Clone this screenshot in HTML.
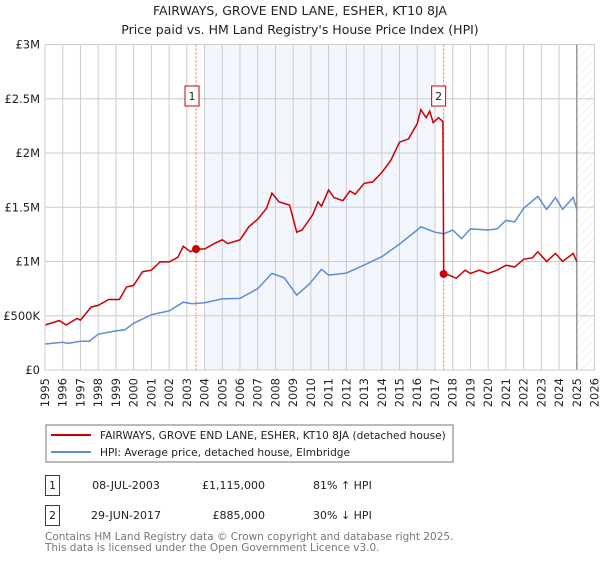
<!DOCTYPE html>
<html><head><meta charset="utf-8"><style>
body{margin:0;background:#fff;font-family:"DejaVu Sans","Liberation Sans",sans-serif;}
svg text{font-family:"DejaVu Sans","Liberation Sans",sans-serif;}
</style></head><body>
<svg id="c" width="600" height="560" xmlns="http://www.w3.org/2000/svg">
<defs><pattern id="hatch" width="6" height="6" patternUnits="userSpaceOnUse" patternTransform="rotate(45)"><line x1="0" y1="0" x2="0" y2="6" stroke="#ddd" stroke-width="0.8"/></pattern></defs>
<text x="300" y="15" text-anchor="middle" font-size="12.5" fill="#222">FAIRWAYS, GROVE END LANE, ESHER, KT10 8JA</text>
<text x="300" y="34" text-anchor="middle" font-size="12.5" fill="#222">Price paid vs. HM Land Registry's House Price Index (HPI)</text>
<g id="plot"></g>
<g>
<rect x="46" y="425" width="407" height="37" fill="#fff" stroke="#777"/>
<line x1="51" y1="435" x2="91" y2="435" stroke="#cc0000" stroke-width="2"/>
<text x="100" y="439" font-size="10.6" fill="#222">FAIRWAYS, GROVE END LANE, ESHER, KT10 8JA (detached house)</text>
<line x1="51" y1="452" x2="91" y2="452" stroke="#5b8fd6" stroke-width="2"/>
<text x="100" y="456" font-size="10.6" fill="#222">HPI: Average price, detached house, Elmbridge</text>
</g>
<g font-size="11" fill="#222">
<rect x="45.5" y="475.5" width="14" height="20" fill="#fff" stroke="#cc0000"/>
<text x="52.5" y="489" text-anchor="middle">1</text>
<text x="126" y="489" text-anchor="middle">08-JUL-2003</text>
<text x="265" y="489" text-anchor="end">£1,115,000</text>
<text x="313" y="489">81% ↑ HPI</text>
<rect x="45.5" y="505.5" width="14" height="20" fill="#fff" stroke="#cc0000"/>
<text x="52.5" y="519" text-anchor="middle">2</text>
<text x="126" y="519" text-anchor="middle">29-JUN-2017</text>
<text x="265" y="519" text-anchor="end">£885,000</text>
<text x="313" y="519">30% ↓ HPI</text>
</g>
<text x="45" y="540" font-size="10.5" fill="#777">Contains HM Land Registry data © Crown copyright and database right 2025.</text>
<text x="45" y="551" font-size="10.5" fill="#777">This data is licensed under the Open Government Licence v3.0.</text>
</svg>
<script>
const hpiYears=[1995,1996,1996.3,1997,1997.5,1998,1999,1999.5,2000,2001,2002,2002.8,2003.3,2004,2005,2006,2007,2007.8,2008.5,2009.2,2009.9,2010.6,2011,2012,2013,2014,2015,2016,2016.2,2017,2017.5,2018,2018.5,2019,2020,2020.5,2021,2021.5,2022,2022.8,2023.3,2023.8,2024.2,2024.8,2025];
const hpiValues=[240000,255000,245000,265000,265000,330000,360000,370000,430000,510000,545000,625000,610000,620000,655000,660000,750000,890000,850000,690000,790000,928000,875000,893000,967000,1044000,1160000,1290000,1320000,1270000,1255000,1290000,1210000,1300000,1290000,1300000,1380000,1365000,1490000,1600000,1480000,1590000,1480000,1590000,1480000];
const propYears=[1995,1995.8,1996.2,1996.8,1997,1997.6,1998,1998.6,1999.2,1999.6,2000,2000.5,2001,2001.5,2002,2002.5,2002.8,2003.2,2003.52,2004,2004.6,2005,2005.3,2006,2006.5,2007,2007.5,2007.8,2008.2,2008.8,2009.2,2009.5,2010.1,2010.4,2010.6,2011,2011.3,2011.8,2012.2,2012.5,2013,2013.5,2014,2014.5,2015,2015.5,2016,2016.2,2016.5,2016.7,2016.9,2017.2,2017.45,2017.49,2017.8,2018.2,2018.7,2019,2019.5,2020,2020.5,2021,2021.5,2022,2022.5,2022.8,2023.3,2023.8,2024.2,2024.8,2025];
const propValues=[415000,455000,415000,475000,460000,580000,595000,650000,650000,765000,780000,906000,920000,998000,995000,1040000,1140000,1090000,1115000,1115000,1170000,1200000,1165000,1200000,1320000,1390000,1490000,1630000,1550000,1520000,1270000,1290000,1430000,1550000,1510000,1660000,1590000,1560000,1650000,1620000,1720000,1735000,1820000,1930000,2100000,2130000,2270000,2400000,2325000,2385000,2280000,2325000,2290000,885000,875000,845000,920000,890000,920000,890000,920000,965000,950000,1020000,1035000,1090000,1000000,1075000,1000000,1075000,1000000];
const saleYears=[2003.52,2017.49];
const saleValues=[1115000,885000];
const yTicks=[0,500000,1000000,1500000,2000000,2500000,3000000];
const yTickLabels=["£0","£500K","£1M","£1.5M","£2M","£2.5M","£3M"];
const xTicks=[];for(let y=1995;y<=2026;y++)xTicks.push(y);

const L=45,R=594.5,T=44.5,B=370;
const x=v=>L+(v-1995)/(2026-1995)*(R-L);
const y=v=>B-v/3000000*(B-T);
const NS="http://www.w3.org/2000/svg";
const g=document.getElementById('plot');
function mk(t,a){const e=document.createElementNS(NS,t);for(const k in a)e.setAttribute(k,a[k]);g.appendChild(e);return e;}
let e;
e=mk('rect',{x:x(2004),y:T,width:x(2017)-x(2004),height:B-T,fill:'#eef2fc',opacity:0.7});


e=mk('rect',{x:x(2025),y:T,width:R-x(2025),height:B-T,fill:'url(#hatch)'});


xTicks.forEach(v=>{
 e=mk('line',{x1:x(v),x2:x(v),y1:T,y2:B,stroke:'#ccc','stroke-width':1});
 
 
 e=mk('text',{x:0,y:0,transform:`translate(${x(v)+4},378) rotate(-90)`,'text-anchor':'end','font-size':11.5,fill:'#222'});
 e.textContent=v;
 
 
});
yTicks.forEach((v,i)=>{
 e=mk('line',{x1:L,x2:R,y1:y(v),y2:y(v),stroke:'#ccc','stroke-width':1});
 
 
 e=mk('text',{x:40,y:y(v)+4,'text-anchor':'end','font-size':11.5,fill:'#222'});
 e.textContent=yTickLabels[i];
 
 
});
e=mk('line',{x1:x(2025),x2:x(2025),y1:T,y2:B,stroke:'#999','stroke-width':1.5});


saleYears.forEach((s,i)=>{
 e=mk('line',{x1:x(s),x2:x(s),y1:T,y2:B,stroke:'#e66','stroke-width':1,'stroke-dasharray':'2,2'});
 
 
});
function path(xs,vs){return xs.map((a,i)=>(i?'L':'M')+x(a).toFixed(1)+','+y(vs[i]).toFixed(1)).join('');}
e=mk('path',{d:path(hpiYears,hpiValues),fill:'none',stroke:'#5b8fd6','stroke-width':1.5});


e=mk('path',{d:path(propYears,propValues),fill:'none',stroke:'#cc0000','stroke-width':1.5});


saleYears.forEach((s,i)=>{
 e=mk('circle',{cx:x(s),cy:y(saleValues[i]),r:4,fill:'#cc0000'});
 
 
 const bx=x(s)-(i?5:4);
 e=mk('rect',{x:bx-7,y:86,width:14,height:20,fill:'#fff',stroke:'#cc0000'});
 
 
 e=mk('text',{x:bx,y:100,'text-anchor':'middle','font-size':11,fill:'#222'});
 e.textContent=String(i+1);
 
 
});
e=mk('rect',{x:L,y:T,width:R-L,height:B-T,fill:'none',stroke:'#ccc'});


</script>
</body></html>
